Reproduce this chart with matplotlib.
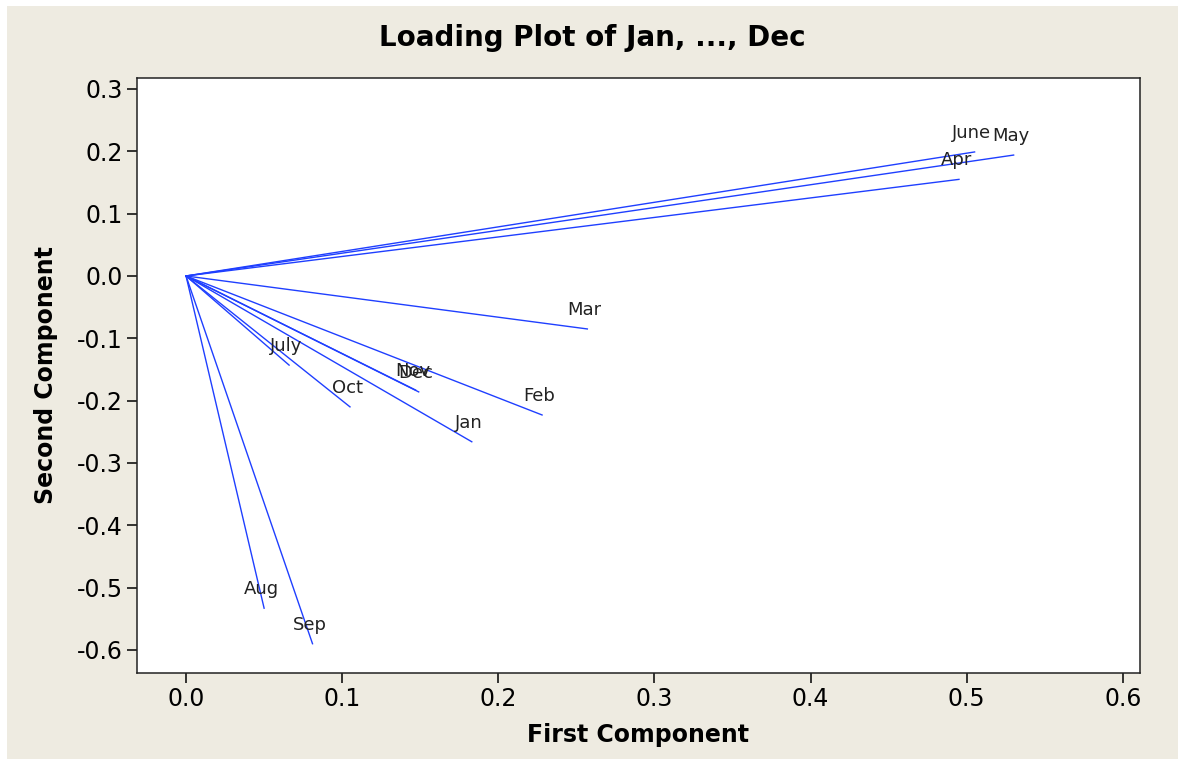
import matplotlib
matplotlib.use('Agg')
import matplotlib.pyplot as plt
from matplotlib.patches import Rectangle

# loadings
months = ['Jan', 'Feb', 'Mar', 'Apr', 'May', 'June',
          'July', 'Aug', 'Sep', 'Oct', 'Nov', 'Dec']
first_comp = [0.183, 0.228, 0.257, 0.495, 0.530, 0.505,
              0.066, 0.050, 0.081, 0.105, 0.147, 0.149]
second_comp = [-0.266, -0.223, -0.085, 0.155, 0.194, 0.199,
               -0.143, -0.533, -0.590, -0.210, -0.183, -0.186]

xticks = [0.0, 0.1, 0.2, 0.3, 0.4, 0.5, 0.6]
yticks = [0.3, 0.2, 0.1, 0.0, -0.1, -0.2, -0.3, -0.4, -0.5, -0.6]

BG = '#EEEBE1'
LINE = '#1F3FFF'

fig, ax = plt.subplots(figsize=(11.78, 7.59), dpi=100)
fig.patch.set_facecolor('white')
# beige panel, white strip left and top like the screenshot
fig.patches.append(Rectangle((7 / 1178, 0), 1, 1 - 6 / 759, transform=fig.transFigure,
                             facecolor=BG, edgecolor='none', zorder=-10))
plt.subplots_adjust(left=0.1163, right=0.9677, top=0.8972, bottom=0.1133)
ax.set_facecolor('white')

for name, x, y in zip(months, first_comp, second_comp):
    ax.plot([0, x], [0, y], color=LINE, linewidth=1.0)
    ax.annotate(name, (x, y), xytext=(-2, 10), textcoords='offset points',
                ha='center', va='baseline', fontsize=13, color='#222222')

ax.set_xlim(-0.0314, 0.6109)
ax.set_ylim(-0.637, 0.3176)
ax.set_xticks(xticks)
ax.set_yticks(yticks)
ax.set_xticklabels([f'{t:.1f}' for t in xticks])
ax.set_yticklabels([f'{t:.1f}' for t in yticks])
ax.tick_params(direction='out', length=7, width=1.1, labelsize=17, pad=3, colors='black')
for sp in ax.spines.values():
    sp.set_linewidth(1.1)
    sp.set_color('#222222')

ax.set_xlabel('First Component', fontsize=17, fontweight='bold', labelpad=9)
ax.set_ylabel('Second Component', fontsize=17, fontweight='bold', labelpad=14)
fig.text(0.503, 1 - 38 / 759, 'Loading Plot of Jan, ..., Dec', ha='center', va='center',
         fontsize=20, fontweight='bold')

fig.savefig('out.png', dpi=100, facecolor=fig.get_facecolor())
